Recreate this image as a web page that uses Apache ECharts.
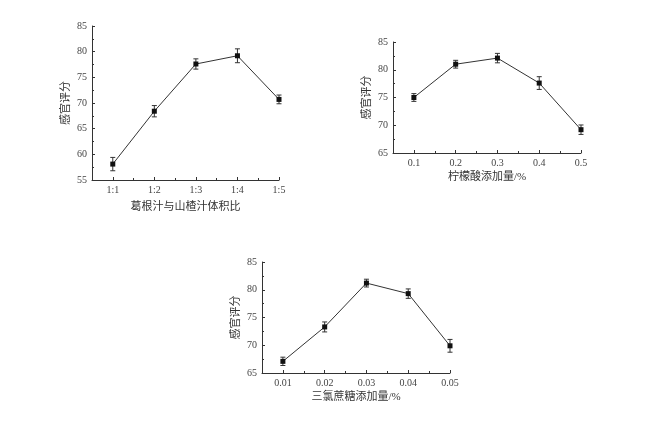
<!DOCTYPE html>
<html>
<head>
<meta charset="utf-8">
<script src="https://cdn.jsdelivr.net/npm/echarts@6/dist/echarts.min.js"></script>
<style>
  html, body { margin: 0; padding: 0; background: #fff; }
  #main { width: 652px; height: 421px; }
</style>
</head>
<body>
<div id="main"></div>
<script>
// 图1 葛根汁与山楂汁体积比
var ratioLabels = ['1:1', '1:2', '1:3', '1:4', '1:5'];
var ratioScore = [58.1, 68.4, 77.6, 79.2, 70.7];
var ratioErr = [1.3, 1.1, 1.0, 1.35, 0.85];

// 图2 柠檬酸添加量
var acidDose = [0.1, 0.2, 0.3, 0.4, 0.5];
var acidScore = [75.0, 81.0, 82.1, 77.6, 69.2];
var acidErr = [0.7, 0.7, 0.85, 1.15, 0.85];

// 图3 三氯蔗糖添加量
var sucraDose = [0.01, 0.02, 0.03, 0.04, 0.05];
var sucraScore = [67.1, 73.3, 81.2, 79.3, 69.9];
var sucraErr = [0.75, 0.9, 0.7, 0.85, 1.15];

var ySerif = 'Liberation Serif, Times New Roman, serif';
var cjk = 'Liberation Serif, Noto Sans CJK SC, serif';
var ink = '#333';

var myChart = echarts.init(document.getElementById('main'));

// 一个小图的x轴：主轴(刻度+标签) + 次刻度轴（都放底部）
function makeX(grid, min, max, ticks, halves, fmt, name, gap) {
  return [
    {
      type: 'value', gridIndex: grid, min: min, max: max, position: 'bottom',
      name: name, nameLocation: 'middle', nameGap: gap,
      nameTextStyle: { fontFamily: cjk, fontSize: 11, color: ink },
      axisLine: { lineStyle: { color: ink, width: 1 } },
      axisTick: { show: true, inside: true, length: 3, customValues: ticks, lineStyle: { color: ink } },
      axisLabel: { customValues: ticks, formatter: fmt, fontFamily: ySerif, fontSize: 10, color: '#444', margin: 5 },
      splitLine: { show: false }
    },
    {
      type: 'value', gridIndex: grid, min: min, max: max, position: 'bottom',
      axisLine: { show: false },
      axisTick: { show: true, inside: true, length: 2, customValues: ticks.concat(halves), lineStyle: { color: ink } },
      axisLabel: { show: false },
      splitLine: { show: false }
    }
  ];
}

function makeY(grid, min, max, gap) {
  return {
    type: 'value', gridIndex: grid, min: min, max: max, interval: 5,
    name: '感官评分', nameLocation: 'middle', nameGap: gap, nameRotate: 90,
    nameTextStyle: { fontFamily: cjk, fontSize: 11, color: ink },
    axisLine: { show: true, lineStyle: { color: ink, width: 1 } },
    axisTick: { inside: true, length: 3, lineStyle: { color: ink } },
    minorTick: { show: true, splitNumber: 2, length: 2, lineStyle: { color: ink } },
    axisLabel: { fontFamily: ySerif, fontSize: 10, color: '#444', margin: 5 },
    splitLine: { show: false }
  };
}

function lineSeries(xi, yi, xs, ys) {
  return {
    type: 'line', xAxisIndex: xi, yAxisIndex: yi,
    data: xs.map(function (x, i) { return [x, ys[i]]; }),
    symbol: 'rect', symbolSize: 5,
    itemStyle: { color: '#111' },
    lineStyle: { color: '#333', width: 1 },
    z: 3
  };
}

// 误差棒
function errSeries(xi, yi, xs, ys, es) {
  return {
    type: 'custom', xAxisIndex: xi, yAxisIndex: yi,
    data: xs.map(function (x, i) { return [x, ys[i] - es[i], ys[i] + es[i]]; }),
    renderItem: function (params, api) {
      var lo = api.coord([api.value(0), api.value(1)]);
      var hi = api.coord([api.value(0), api.value(2)]);
      var w = 2.5;
      var st = { stroke: '#333', lineWidth: 1 };
      return {
        type: 'group',
        children: [
          { type: 'line', shape: { x1: lo[0], y1: lo[1], x2: hi[0], y2: hi[1] }, style: st },
          { type: 'line', shape: { x1: lo[0] - w, y1: lo[1], x2: lo[0] + w, y2: lo[1] }, style: st },
          { type: 'line', shape: { x1: hi[0] - w, y1: hi[1], x2: hi[0] + w, y2: hi[1] }, style: st }
        ]
      };
    },
    z: 2
  };
}

var ratioX = ratioLabels.map(function (l, i) { return i + 1; });

var option = {
  animation: false,
  grid: [
    { left: 92, top: 26, width: 187, height: 154 },
    { left: 393, top: 42, width: 188, height: 111 },
    { left: 262, top: 262, width: 188, height: 111 }
  ],
  xAxis: [].concat(
    makeX(0, 0.5, 5, ratioX, [1.5, 2.5, 3.5, 4.5],
      function (v) { return ratioLabels[Math.round(v) - 1]; }, '葛根汁与山楂汁体积比', 22),
    makeX(1, 0.05, 0.5, acidDose, [0.15, 0.25, 0.35, 0.45],
      function (v) { return v.toFixed(1); }, '柠檬酸添加量/%', 19),
    makeX(2, 0.005, 0.05, sucraDose, [0.015, 0.025, 0.035, 0.045],
      function (v) { return v.toFixed(2); }, '三氯蔗糖添加量/%', 19)
  ),
  yAxis: [
    makeY(0, 55, 85, 20),
    makeY(1, 65, 85, 20),
    makeY(2, 65, 85, 20)
  ],
  series: [
    errSeries(0, 0, ratioX, ratioScore, ratioErr),
    lineSeries(0, 0, ratioX, ratioScore),
    errSeries(2, 1, acidDose, acidScore, acidErr),
    lineSeries(2, 1, acidDose, acidScore),
    errSeries(4, 2, sucraDose, sucraScore, sucraErr),
    lineSeries(4, 2, sucraDose, sucraScore)
  ]
};

myChart.setOption(option);
window.addEventListener('resize', function () {
  myChart.resize();
});
</script>
</body>
</html>
